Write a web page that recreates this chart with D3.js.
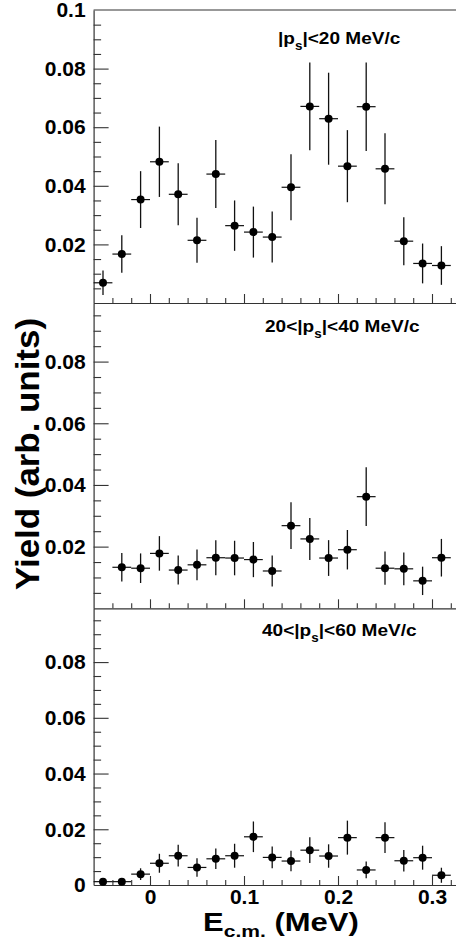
<!DOCTYPE html>
<html>
<head>
<meta charset="utf-8">
<script src="https://cdn.jsdelivr.net/npm/d3@7/dist/d3.min.js"></script>
<style>
  html, body { margin: 0; padding: 0; background: #fff; }
  svg { display: block; }
  text { font-family: "Liberation Sans", Arial, Helvetica, sans-serif; font-weight: bold; }
</style>
</head>
<body>
<div id="chart"></div>
<script>
// bin centres (MeV)
const energy = [-0.05, -0.03, -0.01, 0.01, 0.03, 0.05, 0.07, 0.09, 0.11, 0.13,
                0.15, 0.17, 0.19, 0.21, 0.23, 0.25, 0.27, 0.29, 0.31];
const energyMid = [-0.03, -0.01, 0.01, 0.03, 0.05, 0.07, 0.09, 0.11, 0.13,
                   0.15, 0.17, 0.19, 0.21, 0.23, 0.25, 0.27, 0.29, 0.31];

// |ps| < 20 MeV/c
const yieldLow = [0.0069, 0.0167, 0.0353, 0.0482, 0.0371, 0.0214, 0.0440, 0.0264, 0.0242, 0.0225,
                  0.0395, 0.0671, 0.0629, 0.0467, 0.0670, 0.0458, 0.0211, 0.0135, 0.0128];
const errLow = [0.0042, 0.0064, 0.0097, 0.0120, 0.0106, 0.0077, 0.0116, 0.0086, 0.0087, 0.0087,
                0.0113, 0.0150, 0.0157, 0.0123, 0.0151, 0.0121, 0.0082, 0.0068, 0.0066];

// 20 < |ps| < 40 MeV/c
const yieldMid = [0.0133, 0.0130, 0.0178, 0.0124, 0.0141, 0.0164, 0.0163, 0.0158, 0.0121,
                  0.0268, 0.0225, 0.0163, 0.0190, 0.0362, 0.0130, 0.0128, 0.0089, 0.0164];
const errMid = [0.0046, 0.0048, 0.0056, 0.0047, 0.0050, 0.0057, 0.0056, 0.0057, 0.0050,
                0.0076, 0.0068, 0.0058, 0.0064, 0.0095, 0.0054, 0.0053, 0.0046, 0.0061];

// 40 < |ps| < 60 MeV/c
const yieldHigh = [0.0012, 0.0012, 0.0039, 0.0078, 0.0105, 0.0063, 0.0094, 0.0105, 0.0173, 0.0099,
                   0.0086, 0.0125, 0.0104, 0.0170, 0.0054, 0.0170, 0.0087, 0.0098, 0.0035];
const errHigh = [0.0010, 0.0010, 0.0021, 0.0034, 0.0039, 0.0033, 0.0037, 0.0043, 0.0055, 0.0039,
                 0.0037, 0.0046, 0.0042, 0.0061, 0.0030, 0.0055, 0.0039, 0.0043, 0.0027];

const binHalf = 0.01;

// tick labels
const yTicksTop = [0.02, 0.04, 0.06, 0.08, 0.1];
const yTicksMid = [0.02, 0.04, 0.06, 0.08];
const yTicksBot = [0, 0.02, 0.04, 0.06, 0.08];
const yMajor = [0.02, 0.04, 0.06, 0.08];
const yMinor = [0.005, 0.01, 0.015, 0.025, 0.03, 0.035, 0.045, 0.05, 0.055,
                0.065, 0.07, 0.075, 0.085, 0.09, 0.095];
const xTicks = [0, 0.1, 0.2, 0.3];
const xMinor = [-0.04, -0.02, 0.02, 0.04, 0.06, 0.08, 0.12, 0.14, 0.16, 0.18,
                0.22, 0.24, 0.26, 0.28, 0.32];

const width = 456, height = 941;
const left = 93.6;
const frameColor = '#333';

const x = d3.scaleLinear().domain([-0.06, 0.33]).range([left, 460.2]);

const panels = [
  { xs: energy, ys: yieldLow, errs: errLow, top: 10, bottom: 303, ymax: 0.1,
    ticks: yTicksTop, label: ['|p', 's', '|<20 MeV/c'], lx: 278, ly: 44, xLabels: false },
  { xs: energyMid, ys: yieldMid, errs: errMid, top: 303, bottom: 608.3, ymax: 0.099,
    ticks: yTicksMid, label: ['20<|p', 's', '|<40 MeV/c'], lx: 265, ly: 332, xLabels: false },
  { xs: energy, ys: yieldHigh, errs: errHigh, top: 608.3, bottom: 885, ymax: 0.0993,
    ticks: yTicksBot, label: ['40<|p', 's', '|<60 MeV/c'], lx: 262, ly: 636, xLabels: true }
];

const svg = d3.select('#chart')
  .append('svg')
  .attr('width', width)
  .attr('height', height);

// top frame line
svg.append('line')
  .attr('x1', left).attr('x2', width)
  .attr('y1', 10).attr('y2', 10)
  .attr('stroke', frameColor).attr('stroke-width', 1.2);

function styleText(sel) {
  sel.attr('font-size', 21)
    .attr('font-family', '"Liberation Sans", Arial, sans-serif')
    .attr('font-weight', 'bold')
    .attr('fill', '#000');
}

panels.forEach(p => {
  const y = d3.scaleLinear().domain([0, p.ymax]).range([p.bottom, p.top]);
  const g = svg.append('g');

  // minor y ticks
  g.append('g')
    .attr('transform', `translate(${left},0)`)
    .call(d3.axisLeft(y).tickValues(yMinor.filter(v => v < p.ymax)).tickSizeInner(-7.5).tickSizeOuter(0).tickFormat(''))
    .call(a => a.select('.domain').remove())
    .call(a => a.selectAll('line').attr('stroke', frameColor).attr('stroke-width', 1.1));

  // major y ticks
  g.append('g')
    .attr('transform', `translate(${left},0)`)
    .call(d3.axisLeft(y).tickValues(yMajor).tickSizeInner(-15).tickSizeOuter(0).tickFormat(''))
    .call(a => a.select('.domain').attr('stroke', frameColor).attr('stroke-width', 1.2))
    .call(a => a.selectAll('line').attr('stroke', frameColor).attr('stroke-width', 1.1));

  // y labels
  g.append('g')
    .attr('transform', `translate(${left},0)`)
    .call(d3.axisLeft(y).tickValues(p.ticks).tickSize(0).tickPadding(8).tickFormat(d => String(d)))
    .call(a => a.select('.domain').remove())
    .call(a => styleText(a.selectAll('text')));

  // x axis at the bottom of the panel (ticks pointing up)
  g.append('g')
    .attr('transform', `translate(0,${p.bottom})`)
    .call(d3.axisBottom(x).tickValues(xMinor).tickSizeInner(-5).tickSizeOuter(0).tickFormat(''))
    .call(a => a.select('.domain').remove())
    .call(a => a.selectAll('line').attr('stroke', frameColor).attr('stroke-width', 1.1));

  g.append('g')
    .attr('transform', `translate(0,${p.bottom})`)
    .call(d3.axisBottom(x).tickValues(xTicks).tickSizeInner(-9).tickSizeOuter(0).tickPadding(4)
      .tickFormat(d => p.xLabels ? String(d) : ''))
    .call(a => a.select('.domain').attr('stroke', frameColor).attr('stroke-width', 1.2))
    .call(a => a.selectAll('line').attr('stroke', frameColor).attr('stroke-width', 1.1))
    .call(a => styleText(a.selectAll('text')));

  // data points with error bars
  const data = p.xs.map((e, i) => ({ e, v: p.ys[i], err: p.errs[i] }));
  const pts = g.append('g');
  pts.selectAll('line.h')
    .data(data).enter().append('line')
    .attr('class', 'h')
    .attr('x1', d => x(d.e - binHalf)).attr('x2', d => x(d.e + binHalf))
    .attr('y1', d => y(d.v)).attr('y2', d => y(d.v))
    .attr('stroke', '#111').attr('stroke-width', 1.2);
  pts.selectAll('line.v')
    .data(data).enter().append('line')
    .attr('class', 'v')
    .attr('x1', d => x(d.e)).attr('x2', d => x(d.e))
    .attr('y1', d => y(d.v - d.err)).attr('y2', d => y(d.v + d.err))
    .attr('stroke', '#111').attr('stroke-width', 1.3);
  pts.selectAll('circle')
    .data(data).enter().append('circle')
    .attr('cx', d => x(d.e)).attr('cy', d => y(d.v))
    .attr('r', 4)
    .attr('fill', '#000');

  // panel label
  const t = g.append('text')
    .attr('transform', `translate(${p.lx},${p.ly}) scale(1.12,1)`)
    .attr('font-size', 17)
    .attr('fill', '#000');
  t.append('tspan').text(p.label[0]);
  t.append('tspan').attr('font-size', 12).attr('dy', 6).text(p.label[1]);
  t.append('tspan').attr('dy', -6).text(p.label[2]);
});

// axis titles
svg.append('text')
  .attr('transform', 'translate(39,454) rotate(-90)')
  .attr('text-anchor', 'middle')
  .attr('font-size', 33)
  .attr('textLength', 272)
  .attr('lengthAdjust', 'spacingAndGlyphs')
  .attr('fill', '#000')
  .text('Yield (arb. units)');

const xt = svg.append('text')
  .attr('transform', 'translate(203,931) scale(1.24,1)')
  .attr('font-size', 25)
  .attr('fill', '#000');
xt.append('tspan').text('E');
xt.append('tspan').attr('font-size', 17).attr('dy', 6).text('c.m.');
xt.append('tspan').attr('dy', -6).text(' (MeV)');
</script>
</body>
</html>
